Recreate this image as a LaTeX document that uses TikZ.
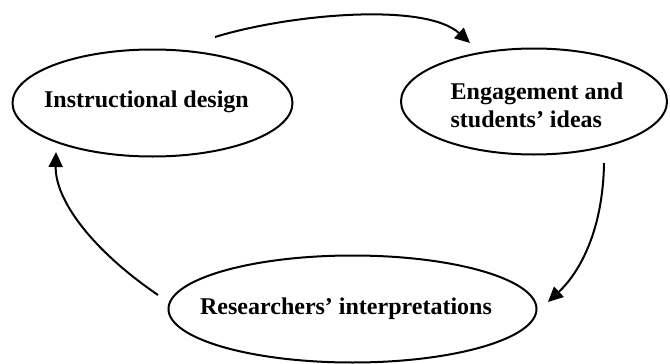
\documentclass[tikz,border=0pt]{standalone}
\usepackage{fontspec}
\setmainfont{Liberation Serif}
\usetikzlibrary{shapes.geometric,arrows.meta}
\begin{document}
\begin{tikzpicture}[x=1pt,y=-1pt,
  oval/.style={draw=black, line width=2pt, ellipse, inner sep=0pt},
  lbl/.style={font=\fontsize{24}{28}\selectfont\bfseries, align=left},
  flow/.style={line width=2pt, -{Triangle[length=15pt,width=14pt]}}]
\useasboundingbox (0,0) rectangle (670,364);
\node[oval, minimum width=280pt, minimum height=107pt] (design) at (152.5,103) {};
\node[lbl] (designtxt) at (146.5,102) {Instructional design};
\node[oval, minimum width=266pt, minimum height=106pt] (engage) at (534,101.5) {};
\node[lbl] (engagetxt) at (537,105) {Engagement and\\students’ ideas};
\node[oval, minimum width=368pt, minimum height=107pt] (research) at (352.5,309) {};
\node[lbl] (researchtxt) at (346,309) {Researchers’ interpretations};
\coordinate (a1s) at (215,37);
\coordinate (a1e) at (470,43);
\coordinate (a2s) at (604,163);
\coordinate (a2e) at (548,302);
\coordinate (a3s) at (158,295);
\coordinate (a3e) at (56,152);
\draw[flow] (a1s) .. controls (290,14) and (425,2) .. (a1e);
\draw[flow] (a2s) .. controls (603,230) and (580,272) .. (a2e);
\draw[flow] (a3s) .. controls (92,250) and (55,200) .. (a3e);
\end{tikzpicture}
\end{document}
